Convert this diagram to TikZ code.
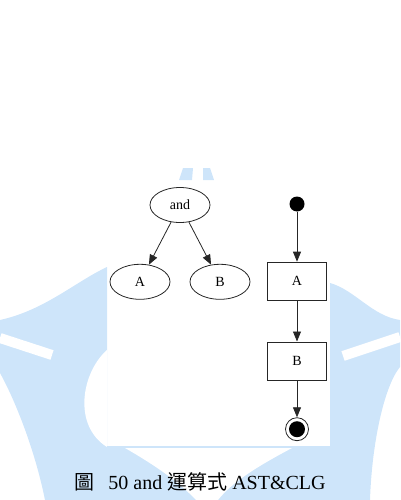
\documentclass[tikz,border=0pt]{standalone}
\usepackage{fontspec}
\setmainfont{Liberation Serif}
\newfontfamily\cjk{Noto Sans CJK TC}
\usepackage{tikz}
\usetikzlibrary{shapes.geometric, arrows.meta, positioning}
\definecolor{wmblue}{RGB}{206,229,250}

\begin{document}
\begin{tikzpicture}[
  x=1pt, y=-1pt,
  node distance=40pt,
  oval/.style={ellipse, draw=black!85, line width=0.8pt, minimum width=60pt, minimum height=35pt, inner sep=0pt, font=\fontsize{14pt}{16pt}\selectfont},
  box/.style={rectangle, draw=black!85, line width=0.8pt, minimum width=59pt, minimum height=38pt, inner sep=0pt, font=\fontsize{14pt}{16pt}\selectfont},
  startdot/.style={circle, fill=black, minimum size=15pt, inner sep=0pt},
  enddot/.style={circle, draw=black!85, line width=0.8pt, minimum size=23pt, inner sep=0pt,
    path picture={\fill[black] (path picture bounding box.center) circle (8pt);}},
  arrow/.style={-{Triangle[length=10pt, width=8pt]}, draw=black!85, line width=0.8pt},
  wm/.style={fill=wmblue},
  cut/.style={draw=white, line width=10pt}
]
  \useasboundingbox (0,0) rectangle (400,500);

  % watermark behind the figure
  \fill[wm] (0,320) .. controls (45,310) and (75,282) .. (107,267) -- (107,500) -- (45,500) .. controls (35,450) and (15,400) .. (0,373) -- cycle;
  \fill[white] (107,350) .. controls (82,372) and (72,425) .. (107,447) -- cycle;
  \draw[cut] (0,338) -- (52,355);
  \fill[wm] (330,283) .. controls (355,290) and (372,316) .. (400,320) -- (400,367) .. controls (385,385) and (372,440) .. (370,500) -- (330,500) -- cycle;
  \draw[cut] (343,356) -- (400,337);
  \fill[wm] (107,446) rectangle (330,500);
  \fill[white] (125,448) .. controls (160,468) and (182,485) .. (196,500) -- (218,500) .. controls (232,482) and (258,466) .. (292,448) -- cycle;
  \fill[wm] (183,168) -- (193,168) -- (192,180) -- (179,180) -- cycle;
  \fill[wm] (203,168) -- (210,168) -- (214,180) -- (203,180) -- cycle;

  % AST
  \node[oval] (opand) at (180,205) {and};
  \node[oval, below=41pt of opand, xshift=-40pt] (opA) {A};
  \node[oval, below=41pt of opand, xshift=40pt] (opB) {B};
  \draw[arrow] (opand) -- (opA);
  \draw[arrow] (opand) -- (opB);

  % CLG
  \node[startdot] (start) at (297,204) {};
  \node[box, below=50pt of start] (stepA) {A};
  \node[box, below=41pt of stepA] (stepB) {B};
  \node[enddot, below=37pt of stepB] (stop) {};
  \draw[arrow] (start) -- (stepA);
  \draw[arrow] (stepA) -- (stepB);
  \draw[arrow] (stepB) -- (stop);

  \node[font=\fontsize{20pt}{23pt}\selectfont] (caption) at (200,482) {{\cjk 圖}\hspace{0.7em}50 and {\cjk 運算式} AST\&CLG};
\end{tikzpicture}
\end{document}
